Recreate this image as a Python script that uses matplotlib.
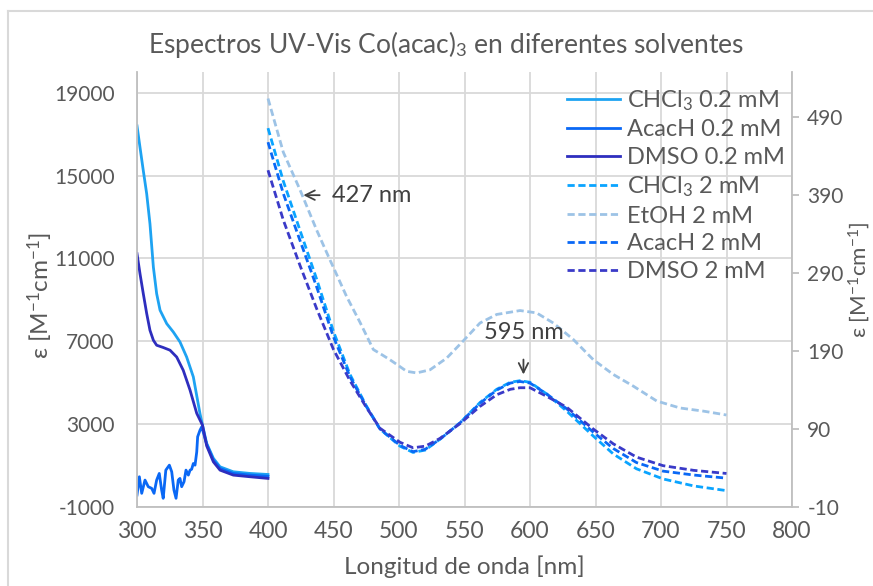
import numpy as np
import matplotlib
matplotlib.use("Agg")
from matplotlib import pyplot as plt
from matplotlib.lines import Line2D

plt.rcParams['font.family'] = ['Lato', 'DejaVu Sans']
plt.rcParams['mathtext.fontset'] = 'custom'
plt.rcParams['mathtext.rm'] = 'Lato'
plt.rcParams['mathtext.it'] = 'Lato:italic'
plt.rcParams['mathtext.bf'] = 'Lato:bold'
plt.rcParams['axes.unicode_minus'] = False

GRIS = '#595959'

# 0.2 mM (eje izquierdo)
wl_chcl3_02 = [300, 302.3, 304.8, 307.4, 309.9, 312.5, 315, 317.6, 322.7, 327.7, 332.8, 337.9, 343, 348.1,
               350, 353.2, 358.3, 363.4, 373.5, 386.3, 400]
eps_chcl3_02 = [17400, 16360, 15240, 14120, 12670, 10580, 9300, 8500, 7850, 7450, 6970, 6240, 5280, 3500,
                2950, 2070, 1350, 940, 700, 620, 570]

wl_dmso_02 = [300, 302.3, 304.8, 307.4, 309.9, 312.5, 315, 320, 325.2, 330.3, 335.3, 340.5, 345.6,
              350, 353.2, 358.3, 363.4, 373.5, 386.3, 400]
eps_dmso_02 = [11230, 10260, 9300, 8340, 7530, 7050, 6810, 6700, 6570, 6240, 5600, 4640, 3520,
               2950, 1950, 1180, 780, 540, 460, 380]

wl_acach_02 = [300, 301.8, 303.6, 306.1, 308.6, 311.2, 313, 315, 317, 318.8, 320, 322, 324.7, 326.5,
               328.2, 329.8, 331.5, 332.8, 334.1, 335.9, 337.4, 339.2, 340.5, 341.7, 343, 344.3,
               345.6, 346.3, 348.1, 349.4, 353.2, 358.3, 363.4, 373.5, 386.3, 400]
eps_acach_02 = [-420, 460, -340, 300, -20, -100, -340, 300, 620, -180, -580, 780, 1020, 700,
                -180, -580, 300, 380, -20, 220, 780, 540, 780, 820, 1100, 1020,
                1660, 2390, 2710, 2870, 2030, 1270, 860, 620, 540, 480]

# 2 mM (eje derecho)
wl_2mM = [400, 411.7, 424.4, 437, 450, 462.6, 475, 485.5, 500.8, 510.7, 520, 531.3, 546.6, 561.8,
          574.6, 585, 592.4, 600, 612.7, 628, 648.3, 663.6, 681.3, 701.6, 725, 750]
eps_chcl3_2 = [476, 408, 345, 283, 215, 160, 120, 90, 68, 60, 63, 77, 98, 124,
               141, 150, 152, 150, 135, 113, 81, 58, 39, 26, 17, 11]
eps_acach_2 = [458, 392, 332, 273, 208, 157, 119, 90, 69, 61, 64, 77, 98, 123,
               140, 149, 151, 149, 135, 116, 86, 65, 47, 36, 31, 27]
eps_dmso_2 = [422, 358, 300, 245, 192, 152, 118, 91, 73, 66, 68, 78, 97, 119,
              134, 141, 143, 143, 132, 118, 90, 71, 54, 43, 37, 33]

wl_etoh_2 = [400, 411.7, 424.4, 437.2, 447.3, 460, 470.2, 480.4, 486.3, 493, 500.8, 505.9, 513.5,
             523.7, 536.4, 549, 561.8, 574.6, 592.4, 605, 617.8, 633, 648.3, 663.6, 678.9,
             696.7, 714.5, 732.3, 750]
eps_etoh_2 = [514, 445, 397, 345, 307, 260, 227, 192, 186, 179, 170, 164, 162,
              166, 181, 203, 226, 237, 242, 239, 226, 205, 179, 160, 145,
              126, 117, 113, 108]

fig = plt.figure(figsize=(8.73, 5.86), dpi=100)
ax = fig.add_axes([137 / 873, 1 - 507 / 586, 655 / 873, 435 / 586])
ax2 = ax.twinx()

lw = 2.0
dash = (0, (2.6, 1.3))
l1, = ax.plot(wl_chcl3_02, eps_chcl3_02, color='#1ea3f2', lw=lw, label='CHCl$_3$ 0.2 mM')
l2, = ax.plot(wl_acach_02, eps_acach_02, color='#0a68f5', lw=lw, label='AcacH 0.2 mM')
l3, = ax.plot(wl_dmso_02, eps_dmso_02, color='#2e2ebe', lw=lw, label='DMSO 0.2 mM')
l4, = ax2.plot(wl_2mM, eps_chcl3_2, color='#0aa4ff', lw=lw, ls=dash, label='CHCl$_3$ 2 mM')
l5, = ax2.plot(wl_etoh_2, eps_etoh_2, color='#9dc3e6', lw=lw, ls=dash, label='EtOH 2 mM')
l6, = ax2.plot(wl_2mM, eps_acach_2, color='#0a68f5', lw=lw, ls=dash, label='AcacH 2 mM')
l7, = ax2.plot(wl_2mM, eps_dmso_2, color='#3a3ac8', lw=lw, ls=dash, label='DMSO 2 mM')

ax.set_xlim(300, 800)
ax.set_ylim(-1000, 20000)
ax.set_xticks(np.arange(300, 801, 50))
ax.set_yticks(np.arange(-1000, 19001, 4000))
ax2.set_ylim(-10, 548)
ax2.set_yticks(np.arange(-10, 491, 100))

ax.grid(True, color='#d9d9d9', lw=1.3)
ax.set_axisbelow(True)
for a in (ax, ax2):
    for s in a.spines.values():
        s.set_color('#bfbfbf')
        s.set_linewidth(1.3)
    a.spines['top'].set_visible(False)
ax2.spines['left'].set_visible(False)
ax2.spines['bottom'].set_visible(False)
ax.spines['right'].set_visible(False)

ax.tick_params(axis='y', length=0, pad=16, labelsize=15, labelcolor=GRIS)
ax.tick_params(axis='x', length=0, pad=10, labelsize=16.5, labelcolor=GRIS)
ax2.tick_params(axis='y', length=5, width=1.3, color='#bfbfbf', pad=6, labelsize=15, labelcolor=GRIS)

ax.set_xlabel('Longitud de onda [nm]', fontsize=17.5, color=GRIS)
ax.xaxis.set_label_coords(0.5, -0.138)
ax.xaxis.label.set_va('center')
ax.set_ylabel('ε [M$^{-1}$cm$^{-1}$]', fontsize=17.5, color=GRIS)
ax.yaxis.set_label_coords((40 - 137) / 655, 0.487)
ax.yaxis.label.set_va('center')
ax2.set_ylabel('ε [M$^{-1}$cm$^{-1}$]', fontsize=16, color=GRIS, rotation=90)
ax2.yaxis.set_label_coords((859 - 137) / 655, 0.522)
ax2.yaxis.label.set_va('center')

fig.text(446 / 873, 1 - 45 / 586, 'Espectros UV-Vis Co(acac)$_3$ en diferentes solventes',
         ha='center', va='center', fontsize=19, color=GRIS)

# flechas de los máximos
ax2.annotate('427 nm', xy=(427, 390), xytext=(449, 390), ha='left', va='center',
             fontsize=17, color='#404040',
             arrowprops=dict(arrowstyle='->', color='#404040', lw=1.3, shrinkA=7, shrinkB=0))
ax2.annotate('595 nm', xy=(595, 160), xytext=(595, 214), ha='center', va='center',
             fontsize=17, color='#404040',
             arrowprops=dict(arrowstyle='->', color='#404040', lw=1.3, shrinkA=10, shrinkB=0))

leg = ax2.legend(handles=[l1, l2, l3, l4, l5, l6, l7], loc='upper left',
                 bbox_to_anchor=(567 / 873, 1 - 88 / 586), bbox_transform=fig.transFigure,
                 frameon=False, fontsize=17, handlelength=2.25, handletextpad=0.3,
                 labelspacing=0.28, borderpad=0, borderaxespad=0)
for t in leg.get_texts():
    t.set_color(GRIS)

# marco del gráfico
fig.add_artist(Line2D([8 / 873, 8 / 873], [0, 1 - 11 / 586], transform=fig.transFigure,
                      color='#d9d9d9', lw=1.5))
fig.add_artist(Line2D([8 / 873, 1], [1 - 11 / 586, 1 - 11 / 586], transform=fig.transFigure,
                      color='#d9d9d9', lw=1.5))

fig.savefig('out.png', dpi=100)
